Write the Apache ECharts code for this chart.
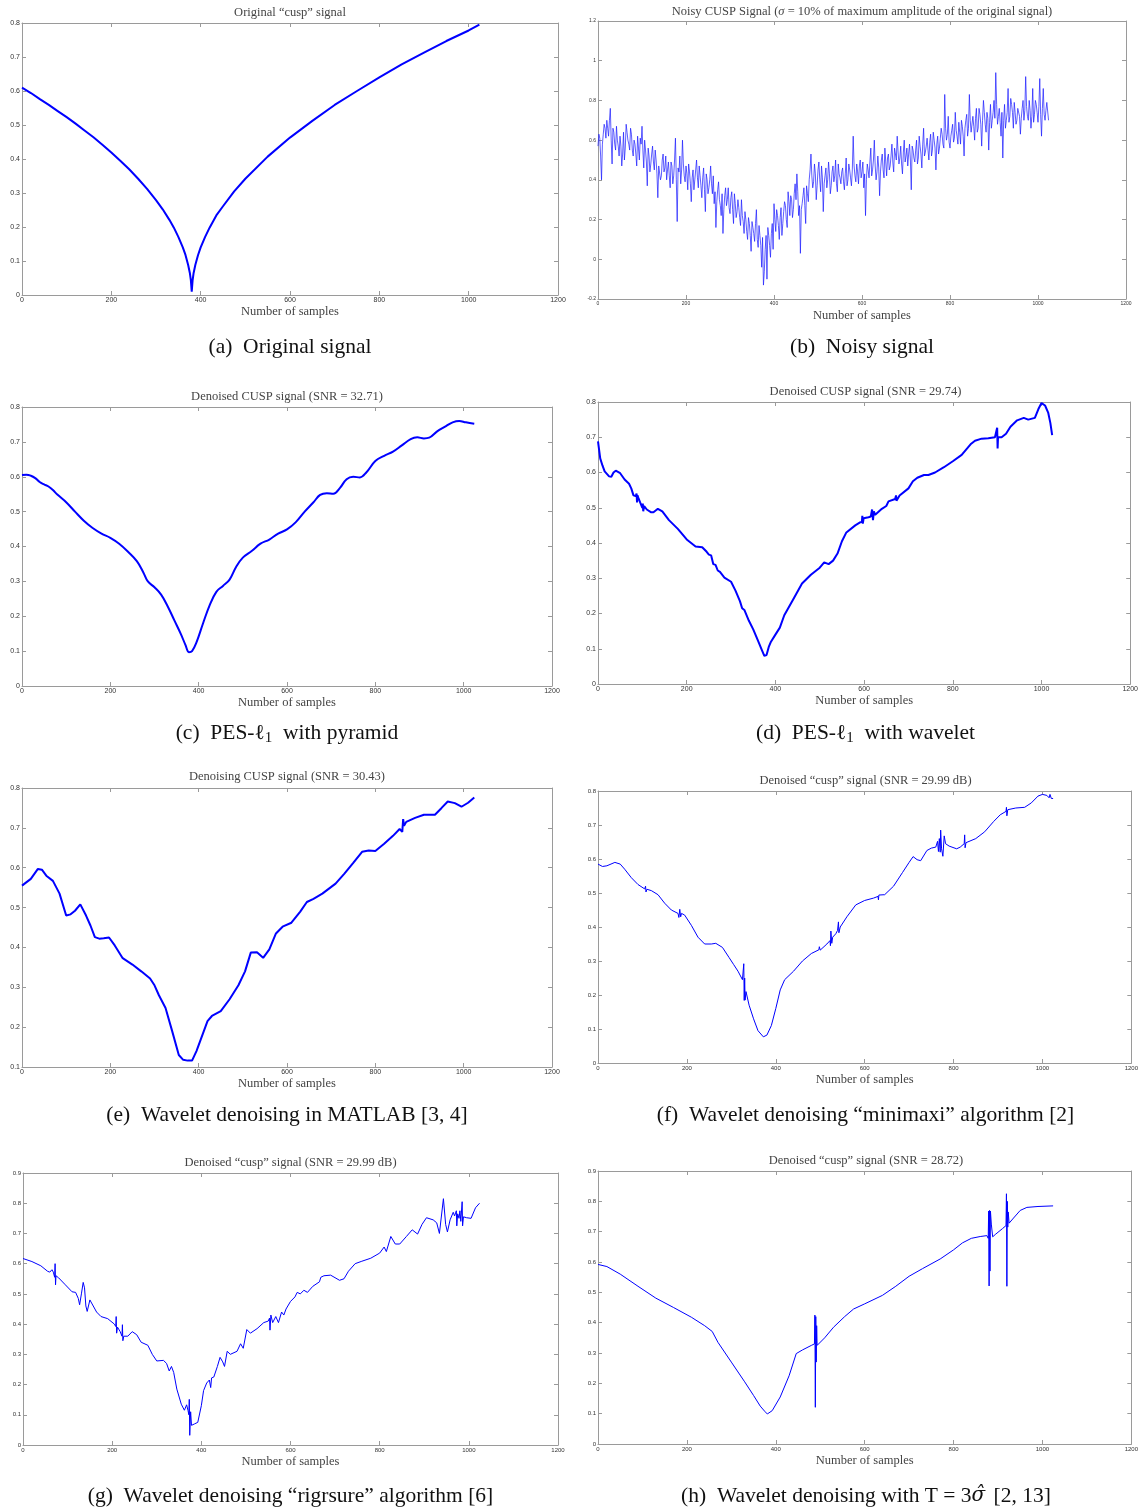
<!DOCTYPE html>
<html lang="en">
<head>
    <meta charset="UTF-8">
    <title>Cusp signal denoising</title>
    <style>
        html, body {
            margin: 0;
            padding: 0;
            background: #ffffff;
        }
        #chart {
            width: 1141px;
            height: 1509px;
        }
    </style>
</head>
<body>
    <div id="chart"></div>

    <script src="https://cdn.jsdelivr.net/npm/echarts@6/dist/echarts.min.js"></script>
    <script>

        // ---- data: [sample, value] ----
        var originalSig = [
            [0,0.610],[20,0.594],[40,0.576],[60,0.559],[80,0.541],[100,0.523],[120,0.504],[140,0.484],
            [160,0.464],[180,0.442],[200,0.419],[220,0.395],[240,0.370],[260,0.342],[280,0.312],[300,0.279],
            [315,0.252],[330,0.221],[340,0.198],[350,0.171],[360,0.140],[366,0.118],[372,0.088],[376,0.063],
            [378,0.044],[380,0.010],[382,0.044],[384,0.063],[388,0.088],[394,0.117],[400,0.140],[410,0.171],
            [420,0.198],[435,0.234],[450,0.261],[475,0.305],[500,0.342],[550,0.407],[600,0.463],[650,0.512],
            [700,0.559],[750,0.600],[800,0.640],[850,0.678],[900,0.713],[950,0.747],[1000,0.778],[1024,0.795]
        ];

        // noisy signal, read in two passes (every 4th sample, then the ones in between)
        var noisyPassA = [
            [0,0.57],[4,0.61],[8,0.40],[12,0.63],[16,0.66],[20,0.70],[24,0.62],[28,0.76],[32,0.48],[36,0.64],[40,0.55],[44,0.60],[48,0.52],[52,0.57],[56,0.53],[60,0.50],
            [64,0.68],[68,0.60],[72,0.55],[76,0.63],[80,0.52],[84,0.58],[88,0.47],[92,0.56],[96,0.61],[100,0.67],[104,0.46],[108,0.55],[112,0.37],[116,0.52],[120,0.48],[124,0.57],
            [128,0.45],[132,0.50],[136,0.31],[140,0.48],[144,0.42],[148,0.53],[152,0.46],[156,0.40],[160,0.49],[164,0.36],[168,0.47],[172,0.42],[176,0.61],[180,0.19],[184,0.44],[188,0.38],
            [192,0.60],[196,0.42],[200,0.47],[204,0.35],[208,0.44],[212,0.29],[216,0.45],[220,0.40],[224,0.50],[228,0.36],[232,0.42],[236,0.31],[240,0.46],[244,0.24],[248,0.40],[252,0.36],
            [256,0.47],[260,0.33],[264,0.28],[268,0.16],[272,0.35],[276,0.30],[280,0.22],[284,0.13],[288,0.32],[292,0.27],[296,0.36],[300,0.23],[304,0.34],[308,0.18],[312,0.28],[316,0.24],
            [320,0.26],[324,0.17],[328,0.22],[332,0.13],[336,0.20],[340,0.10],[344,0.18],[348,0.04],[352,0.16],[356,0.09],[360,0.25],[364,0.06],[368,0.12],[372,-0.04],[376,-0.13],[380,0.05],
            [384,-0.10],[388,0.12],[392,0.01],[396,0.18],[400,0.28],[404,0.14],[408,0.22],[412,0.10],[416,0.26],[420,0.18],[424,0.29],[428,0.20],[432,0.34],[436,0.22],[440,0.30],[444,0.25],
            [448,0.38],[452,0.43],[456,0.22],[460,0.03],[464,0.28],[468,0.36],[472,0.18],[476,0.33],[480,0.40],[484,0.53],[488,0.36],[492,0.48],[496,0.30],[500,0.45],[504,0.40],[508,0.47],
            [512,0.24],[516,0.42],[520,0.36],[524,0.49],[528,0.33],[532,0.44],[536,0.39],[540,0.50],[544,0.34],[548,0.43],[552,0.38],[556,0.46],[560,0.35],[564,0.51],[568,0.40],[572,0.45],
            [576,0.37],[580,0.62],[584,0.42],[588,0.48],[592,0.38],[596,0.50],[600,0.44],[604,0.36],[608,0.22],[612,0.48],[616,0.41],[620,0.56],[624,0.45],[628,0.60],[632,0.40],[636,0.52],
            [640,0.32],[644,0.50],[648,0.45],[652,0.56],[656,0.42],[660,0.53],[664,0.47],[668,0.58],[672,0.44],[676,0.55],[680,0.62],[684,0.48],[688,0.57],[692,0.43],[696,0.60],[700,0.52],
            [704,0.47],[708,0.58],[712,0.35],[716,0.55],[720,0.49],[724,0.60],[728,0.51],[732,0.57],[736,0.46],[740,0.66],[744,0.54],[748,0.61],[752,0.50],[756,0.63],[760,0.55],[764,0.60],
            [768,0.45],[772,0.62],[776,0.56],[780,0.66],[784,0.58],[788,0.83],[792,0.60],[796,0.72],[800,0.56],[804,0.65],[808,0.59],[812,0.74],[816,0.62],[820,0.69],[824,0.58],[828,0.67],
            [832,0.52],[836,0.70],[840,0.62],[844,0.83],[848,0.64],[852,0.72],[856,0.60],[860,0.76],[864,0.66],[868,0.73],[872,0.57],[876,0.80],[880,0.68],[884,0.74],[888,0.55],[892,0.78],
            [896,0.70],[900,0.80],[904,0.94],[908,0.68],[912,0.76],[916,0.62],[920,0.51],[924,0.78],[928,0.70],[932,0.86],[936,0.72],[940,0.78],[944,0.66],[948,0.74],[952,0.70],[956,0.77],
            [960,0.63],[964,0.76],[968,0.70],[972,0.92],[976,0.72],[980,0.80],[984,0.66],[988,0.86],[992,0.73],[996,0.78],[1000,0.69],[1004,0.91],[1008,0.62],[1012,0.86],[1016,0.70],[1020,0.79],
            [1024,0.70]
        ];
        var noisyPassB = [
            [2,0.63],[6,0.52],[10,0.58],[14,0.68],[18,0.61],[22,0.66],[26,0.70],[30,0.60],[34,0.66],[38,0.58],[42,0.67],[46,0.57],[50,0.62],[54,0.47],[58,0.64],[62,0.56],
            [66,0.64],[70,0.58],[74,0.66],[78,0.55],[82,0.60],[86,0.53],[90,0.62],[94,0.50],[98,0.58],[102,0.55],[106,0.60],[110,0.49],[114,0.56],[118,0.44],[122,0.53],[126,0.49],
            [130,0.55],[134,0.43],[138,0.47],[142,0.40],[146,0.50],[150,0.44],[154,0.52],[158,0.45],[162,0.42],[166,0.49],[170,0.38],[174,0.50],[178,0.40],[182,0.46],[186,0.52],[190,0.45],
            [194,0.48],[198,0.39],[202,0.43],[206,0.48],[210,0.38],[214,0.41],[218,0.35],[222,0.45],[226,0.41],[230,0.47],[234,0.37],[238,0.41],[242,0.35],[246,0.43],[250,0.33],[254,0.40],
            [258,0.38],[262,0.42],[266,0.34],[270,0.29],[274,0.39],[278,0.27],[282,0.33],[286,0.25],[290,0.36],[294,0.30],[298,0.26],[302,0.31],[306,0.25],[310,0.33],[314,0.21],[318,0.30],
            [322,0.21],[326,0.30],[330,0.19],[334,0.24],[338,0.14],[342,0.21],[346,0.12],[350,0.19],[354,0.13],[358,0.18],[362,0.10],[366,0.17],[370,0.07],[374,0.11],[378,-0.06],[382,0.12],
            [386,0.16],[390,0.07],[394,0.13],[398,0.05],[402,0.20],[406,0.25],[410,0.17],[414,0.21],[418,0.12],[422,0.24],[426,0.27],[430,0.16],[434,0.29],[438,0.32],[442,0.21],[446,0.33],
            [450,0.30],[454,0.34],[458,0.27],[462,0.25],[466,0.32],[470,0.27],[474,0.37],[478,0.29],[482,0.45],[486,0.42],[490,0.39],[494,0.43],[498,0.37],[502,0.49],[506,0.34],[510,0.41],
            [514,0.38],[518,0.46],[522,0.40],[526,0.43],[530,0.37],[534,0.47],[538,0.42],[542,0.38],[546,0.48],[550,0.41],[554,0.44],[558,0.39],[562,0.43],[566,0.37],[570,0.48],[574,0.41],
            [578,0.45],[582,0.47],[586,0.39],[590,0.44],[594,0.47],[598,0.41],[602,0.49],[606,0.43],[610,0.40],[614,0.45],[618,0.49],[622,0.42],[626,0.50],[630,0.47],[634,0.44],[638,0.46],
            [642,0.44],[646,0.53],[650,0.41],[654,0.49],[658,0.51],[662,0.45],[666,0.52],[670,0.49],[674,0.56],[678,0.50],[682,0.54],[686,0.51],[690,0.48],[694,0.54],[698,0.49],[702,0.56],
            [706,0.53],[710,0.50],[714,0.57],[718,0.51],[722,0.55],[726,0.48],[730,0.62],[734,0.53],[738,0.58],[742,0.52],[746,0.57],[750,0.55],[754,0.59],[758,0.52],[762,0.64],[766,0.56],
            [770,0.58],[774,0.53],[778,0.61],[782,0.63],[786,0.56],[790,0.66],[794,0.63],[798,0.59],[802,0.62],[806,0.68],[810,0.61],[814,0.65],[818,0.58],[822,0.64],[826,0.70],[830,0.62],
            [834,0.66],[838,0.73],[842,0.66],[846,0.70],[850,0.63],[854,0.67],[858,0.71],[862,0.64],[866,0.76],[870,0.68],[874,0.70],[878,0.74],[882,0.64],[886,0.71],[890,0.69],[894,0.66],
            [898,0.74],[902,0.71],[906,0.78],[910,0.72],[914,0.69],[918,0.74],[922,0.70],[926,0.66],[930,0.74],[934,0.69],[938,0.81],[942,0.74],[946,0.79],[950,0.68],[954,0.76],[958,0.72],
            [962,0.71],[966,0.80],[970,0.75],[974,0.77],[978,0.70],[982,0.75],[986,0.72],[990,0.69],[994,0.80],[998,0.74],[1002,0.77],[1006,0.73],[1010,0.76],[1014,0.73],[1018,0.75],[1022,0.78]
        ];

        var pyramidSig = [
            [0,0.605],[10,0.606],[20,0.603],[30,0.596],[40,0.585],[50,0.578],[60,0.572],[70,0.562],[80,0.549],
            [100,0.527],[120,0.500],[140,0.474],[160,0.453],[180,0.437],[200,0.425],[220,0.408],[240,0.385],
            [260,0.358],[275,0.325],[285,0.300],[300,0.283],[315,0.262],[330,0.228],[345,0.188],[360,0.148],
            [370,0.118],[378,0.097],[385,0.100],[395,0.125],[410,0.180],[425,0.232],[440,0.270],[455,0.287],
            [470,0.305],[485,0.342],[500,0.368],[520,0.387],[540,0.408],[560,0.420],[580,0.437],[600,0.449],
            [620,0.470],[640,0.500],[660,0.527],[675,0.548],[690,0.553],[705,0.551],[720,0.568],[735,0.593],
            [750,0.600],[765,0.598],[780,0.613],[800,0.645],[820,0.660],[840,0.672],[860,0.690],[880,0.708],
            [895,0.713],[910,0.710],[922,0.712],[940,0.730],[960,0.745],[975,0.756],[990,0.760],[1005,0.756],[1024,0.752]
        ];

        var waveletSig = [
            [0,0.688],[5,0.640],[10,0.620],[15,0.603],[25,0.589],[30,0.588],[35,0.600],[40,0.605],[50,0.598],
            [60,0.580],[70,0.568],[75,0.555],[80,0.535],[85,0.533],[87,0.540],[88,0.515],[89,0.535],[91,0.528],
            [95,0.515],[100,0.500],[101,0.512],[102,0.490],[104,0.505],[110,0.495],[120,0.487],[125,0.487],
            [135,0.497],[145,0.490],[160,0.465],[180,0.440],[200,0.410],[220,0.390],[235,0.388],[245,0.375],
            [250,0.367],[255,0.365],[260,0.340],[265,0.338],[270,0.322],[275,0.318],[285,0.302],[300,0.290],
            [310,0.265],[320,0.235],[325,0.215],[330,0.210],[340,0.180],[350,0.155],[360,0.125],[370,0.095],
            [375,0.080],[380,0.082],[385,0.105],[390,0.120],[400,0.140],[410,0.160],[420,0.195],[440,0.240],
            [460,0.285],[480,0.310],[500,0.330],[510,0.345],[520,0.340],[530,0.350],[540,0.370],[550,0.405],
            [560,0.430],[580,0.450],[590,0.458],[595,0.460],[596,0.477],[597,0.455],[599,0.470],[610,0.473],
            [615,0.475],[618,0.495],[620,0.465],[622,0.490],[625,0.480],[640,0.497],[650,0.505],[655,0.518],
            [670,0.525],[672,0.535],[673,0.520],[680,0.535],[700,0.555],[710,0.575],[720,0.585],[735,0.593],
            [745,0.593],[760,0.600],[780,0.615],[800,0.632],[820,0.650],[830,0.665],[840,0.680],[850,0.690],
            [865,0.696],[880,0.697],[895,0.700],[900,0.727],[901,0.668],[902,0.700],[910,0.700],[920,0.710],
            [930,0.730],[945,0.748],[960,0.755],[970,0.750],[985,0.755],[993,0.780],[1000,0.797],[1008,0.790],
            [1015,0.770],[1020,0.740],[1024,0.706]
        ];

        var matlabSig = [
            [0,0.555],[20,0.572],[36,0.597],[45,0.595],[55,0.580],[70,0.567],[85,0.535],[100,0.480],[110,0.483],
            [120,0.492],[132,0.508],[145,0.480],[155,0.455],[165,0.426],[175,0.422],[185,0.423],[197,0.425],
            [210,0.405],[228,0.373],[250,0.357],[270,0.340],[290,0.322],[300,0.305],[310,0.280],[325,0.248],
            [340,0.190],[355,0.130],[365,0.118],[375,0.116],[385,0.116],[395,0.140],[405,0.170],[420,0.215],
            [430,0.228],[450,0.240],[470,0.270],[490,0.305],[505,0.340],[518,0.387],[532,0.388],[546,0.374],
            [560,0.395],[575,0.435],[590,0.452],[610,0.462],[630,0.490],[645,0.514],[660,0.522],[680,0.535],
            [710,0.560],[730,0.585],[750,0.612],[770,0.640],[785,0.643],[800,0.642],[820,0.660],[840,0.680],
            [855,0.697],[859,0.700],[861,0.690],[863,0.722],[865,0.705],[870,0.715],[890,0.725],[910,0.733],
            [935,0.733],[950,0.750],[964,0.766],[980,0.762],[995,0.753],[1010,0.763],[1024,0.776]
        ];

        var minimaxiSig = [
            [0,0.585],[10,0.578],[20,0.580],[38,0.590],[50,0.585],[60,0.570],[75,0.545],[90,0.525],[105,0.512],
            [107,0.520],[108,0.503],[110,0.511],[120,0.507],[135,0.495],[150,0.470],[165,0.450],[180,0.440],
            [182,0.428],[184,0.452],[186,0.430],[188,0.440],[195,0.435],[210,0.405],[225,0.370],[240,0.350],
            [255,0.350],[265,0.352],[280,0.340],[295,0.310],[305,0.290],[315,0.270],[325,0.245],[327,0.240],
            [328,0.292],[329,0.184],[330,0.250],[331,0.185],[333,0.210],[340,0.170],[350,0.130],[360,0.095],
            [372,0.077],[380,0.082],[390,0.110],[400,0.160],[410,0.215],[420,0.245],[440,0.270],[460,0.300],
            [480,0.322],[497,0.333],[498,0.342],[500,0.332],[515,0.350],[522,0.360],[523,0.345],[524,0.388],
            [526,0.352],[528,0.370],[535,0.380],[539,0.390],[541,0.415],[542,0.383],[545,0.400],[560,0.430],
            [580,0.465],[600,0.478],[620,0.485],[630,0.490],[631,0.480],[632,0.494],[645,0.495],[665,0.520],
            [685,0.560],[700,0.590],[709,0.607],[718,0.598],[726,0.595],[740,0.625],[750,0.632],[760,0.635],
            [762,0.640],[764,0.652],[766,0.622],[768,0.660],[770,0.620],[771,0.685],[773,0.630],[776,0.608],
            [779,0.668],[782,0.645],[790,0.638],[807,0.630],[815,0.635],[824,0.645],[825,0.671],[826,0.633],
            [828,0.648],[850,0.660],[870,0.680],[890,0.710],[905,0.730],[918,0.740],[919,0.752],[920,0.727],
            [922,0.745],[940,0.750],[960,0.752],[975,0.765],[990,0.785],[1000,0.790],[1010,0.787],[1015,0.780],
            [1017,0.790],[1020,0.778],[1024,0.778]
        ];

        var rigrsureSig = [
            [0,0.617],[20,0.607],[40,0.593],[55,0.575],[60,0.572],[65,0.580],[68,0.572],[71,0.555],[72,0.600],
            [73,0.530],[74,0.560],[80,0.553],[95,0.530],[110,0.507],[118,0.505],[124,0.485],[127,0.464],
            [131,0.500],[135,0.538],[138,0.520],[141,0.460],[144,0.442],[150,0.480],[153,0.483],[165,0.440],
            [175,0.425],[190,0.418],[205,0.400],[208,0.392],[209,0.425],[210,0.370],[212,0.390],[218,0.375],
            [222,0.360],[223,0.398],[224,0.345],[226,0.360],[235,0.360],[245,0.375],[255,0.365],[265,0.340],
            [280,0.330],[290,0.300],[300,0.278],[315,0.280],[322,0.270],[328,0.245],[333,0.260],[338,0.240],
            [345,0.185],[355,0.135],[362,0.115],[367,0.133],[370,0.115],[372,0.100],[373,0.151],[374,0.032],
            [376,0.110],[378,0.065],[385,0.070],[392,0.075],[400,0.130],[405,0.180],[412,0.205],[418,0.215],
            [421,0.190],[423,0.222],[428,0.225],[436,0.260],[442,0.290],[448,0.275],[452,0.260],[458,0.310],
            [465,0.300],[480,0.310],[488,0.335],[494,0.320],[502,0.382],[510,0.370],[525,0.385],[540,0.405],
            [550,0.410],[553,0.420],[554,0.380],[556,0.430],[560,0.405],[567,0.425],[573,0.405],[580,0.440],
            [585,0.430],[590,0.450],[600,0.475],[610,0.490],[615,0.505],[622,0.500],[630,0.512],[638,0.505],
            [650,0.525],[665,0.540],[668,0.555],[675,0.560],[690,0.562],[710,0.545],[720,0.550],[730,0.575],
            [745,0.600],[760,0.608],[780,0.618],[800,0.635],[810,0.655],[815,0.640],[825,0.690],[835,0.665],
            [845,0.665],[860,0.690],[873,0.712],[885,0.698],[895,0.730],[905,0.752],[920,0.745],[928,0.735],
            [934,0.700],[943,0.815],[948,0.730],[952,0.705],[958,0.745],[965,0.770],[968,0.758],[972,0.775],
            [973,0.725],[975,0.765],[978,0.750],[980,0.775],[982,0.740],[985,0.805],[986,0.725],[988,0.755],
            [995,0.752],[1005,0.750],[1015,0.785],[1024,0.800]
        ];

        var threshSig = [
            [0,0.592],[20,0.585],[50,0.560],[90,0.520],[130,0.481],[170,0.450],[210,0.418],[240,0.390],
            [257,0.371],[270,0.335],[300,0.270],[330,0.205],[350,0.160],[365,0.125],[375,0.108],[381,0.099],
            [392,0.110],[410,0.155],[430,0.225],[446,0.298],[460,0.310],[480,0.325],[487,0.330],[488,0.425],
            [489,0.121],[490,0.420],[491,0.270],[492,0.390],[493,0.325],[495,0.330],[510,0.350],[530,0.385],
            [555,0.420],[575,0.445],[600,0.462],[640,0.490],[670,0.520],[700,0.553],[730,0.578],[770,0.610],
            [800,0.640],[820,0.663],[840,0.678],[860,0.684],[875,0.687],[878,0.678],[879,0.768],[880,0.521],
            [881,0.770],[882,0.570],[883,0.768],[885,0.725],[888,0.683],[895,0.692],[910,0.710],[918,0.720],
            [919,0.825],[920,0.520],[921,0.800],[922,0.715],[923,0.765],[925,0.728],[935,0.745],[950,0.770],
            [965,0.780],[990,0.783],[1024,0.785]
        ];

        // y ranges per panel: [min, max, interval]
        var yRanges = [
            [0, 0.8, 0.1], [-0.2, 1.2, 0.2],
            [0, 0.8, 0.1], [0, 0.8, 0.1],
            [0.1, 0.8, 0.1], [0, 0.8, 0.1],
            [0, 0.9, 0.1], [0, 0.9, 0.1]
        ];

        var plotTitles = [
            'Original \u201ccusp\u201d signal',
            'Noisy CUSP Signal ({i|\u03c3} = 10% of maximum amplitude of the original signal)',
            'Denoised CUSP signal (SNR = 32.71)',
            'Denoised CUSP signal (SNR = 29.74)',
            'Denoising CUSP signal (SNR = 30.43)',
            'Denoised \u201ccusp\u201d signal (SNR = 29.99 dB)',
            'Denoised \u201ccusp\u201d signal (SNR = 29.99 dB)',
            'Denoised \u201ccusp\u201d signal (SNR = 28.72)'
        ];

        var captions = [
            '(a)  Original signal',
            '(b)  Noisy signal',
            '(c)  PES-\u2113{s|1}  with pyramid',
            '(d)  PES-\u2113{s|1}  with wavelet',
            '(e)  Wavelet denoising in MATLAB [3, 4]',
            '(f)  Wavelet denoising \u201cminimaxi\u201d algorithm [2]',
            '(g)  Wavelet denoising \u201crigrsure\u201d algorithm [6]',
            '(h)  Wavelet denoising with T = 3{h|\u03c3\u0302}{n| }[2, 13]'
        ];

        var noisySig = noisyPassA.concat(noisyPassB).sort(function (p, q) { return p[0] - q[0]; });
        var seriesData = [originalSig, noisySig, pyramidSig, waveletSig, matlabSig, minimaxiSig, rigrsureSig, threshSig];

        // ---- layout ----
        var grids = [
            { left: 22, top: 23, width: 536, height: 272 },
            { left: 598, top: 21, width: 528, height: 278 },
            { left: 22, top: 407, width: 530, height: 279 },
            { left: 598, top: 402, width: 535, height: 282 },
            { left: 22, top: 788, width: 530, height: 279 },
            { left: 598, top: 791, width: 535, height: 272 },
            { left: 23, top: 1173, width: 535, height: 272 },
            { left: 598, top: 1171, width: 536, height: 273 }
        ];
        var titleY = [13, 12, 397, 392, 777, 781, 1163, 1161];
        var captionY = [347, 347, 733, 733, 1115, 1115, 1496, 1496];
        var lineWidths = [2, 1, 2, 2, 2, 1, 1, 1];
        var lineColors = ['#0000ff', 'rgba(25,25,255,0.7)', '#0000ff', '#0000ff', '#0000ff', '#0000ff', '#0000ff', '#0000ff'];
        var tickFont = [7, 5, 7, 7, 7, 6, 6, 6];

        var frameColor = '#9a9a9a';
        var serif = '"Liberation Serif", "DejaVu Serif", serif';
        var sans = '"Liberation Sans", Arial, sans-serif';

        function fmtY(v) {
            return String(Math.round(v * 10) / 10);
        }
        function fmtX(v) {
            return String(Math.round(v));
        }

        var xAxes = [], yAxes = [], series = [], graphics = [];

        grids.forEach(function (g, i) {
            var r = yRanges[i];
            ['bottom', 'top'].forEach(function (pos) {
                xAxes.push({
                    type: 'value', gridIndex: i, position: pos,
                    min: 0, max: 1200, interval: 200,
                    name: pos === 'bottom' ? 'Number of samples' : '',
                    nameLocation: 'middle', nameGap: 10,
                    nameTextStyle: { fontFamily: serif, fontSize: 12.5, color: '#444' },
                    axisLine: { show: true, onZero: false, lineStyle: { color: frameColor, width: 1 } },
                    axisTick: { show: true, inside: true, length: 4, lineStyle: { color: frameColor } },
                    axisLabel: { show: pos === 'bottom', fontSize: tickFont[i], color: '#333', margin: 2, fontFamily: sans, formatter: fmtX },
                    splitLine: { show: false }
                });
            });
            ['left', 'right'].forEach(function (pos) {
                yAxes.push({
                    type: 'value', gridIndex: i, position: pos,
                    min: r[0], max: r[1], interval: r[2],
                    axisLine: { show: true, onZero: false, lineStyle: { color: frameColor, width: 1 } },
                    axisTick: { show: true, inside: true, length: 4, lineStyle: { color: frameColor } },
                    axisLabel: { show: pos === 'left', fontSize: tickFont[i], color: '#333', margin: 2, fontFamily: sans, formatter: fmtY },
                    splitLine: { show: false }
                });
            });

            series.push({
                type: 'line',
                xAxisIndex: i * 2,
                yAxisIndex: i * 2,
                data: seriesData[i],
                showSymbol: false,
                symbol: 'none',
                smooth: i === 2 ? 0.4 : false,
                lineStyle: { color: lineColors[i], width: lineWidths[i] },
                animation: false
            });

            var cx = g.left + g.width / 2;
            graphics.push({
                type: 'text', x: cx, y: titleY[i],
                style: {
                    text: plotTitles[i], fontFamily: serif, fontSize: 12.5, fill: '#444',
                    align: 'center', verticalAlign: 'middle',
                    rich: { i: { fontFamily: serif, fontSize: 12.5, fontStyle: 'italic', fill: '#444' } }
                }
            });
            graphics.push({
                type: 'text', x: cx, y: captionY[i],
                style: {
                    text: captions[i], fontFamily: serif, fontSize: 21.5, fill: '#111',
                    align: 'center', verticalAlign: 'middle',
                    rich: {
                        s: { fontFamily: serif, fontSize: 15, fill: '#111', padding: [10, 0, 0, 0] },
                        h: { fontFamily: '"DejaVu Serif", serif', fontSize: 20, fontStyle: 'italic', fill: '#111', padding: [0, 3, 0, 0] },
                        n: { fontFamily: serif, fontSize: 21.5, fill: '#111' }
                    }
                }
            });
        });

        var chart = echarts.init(document.getElementById('chart'), null, { renderer: 'canvas' });
        var option = {
            backgroundColor: '#ffffff',
            animation: false,
            grid: grids,
            xAxis: xAxes,
            yAxis: yAxes,
            series: series,
            graphic: graphics
        };
        chart.setOption(option);

    </script>
</body>
</html>
